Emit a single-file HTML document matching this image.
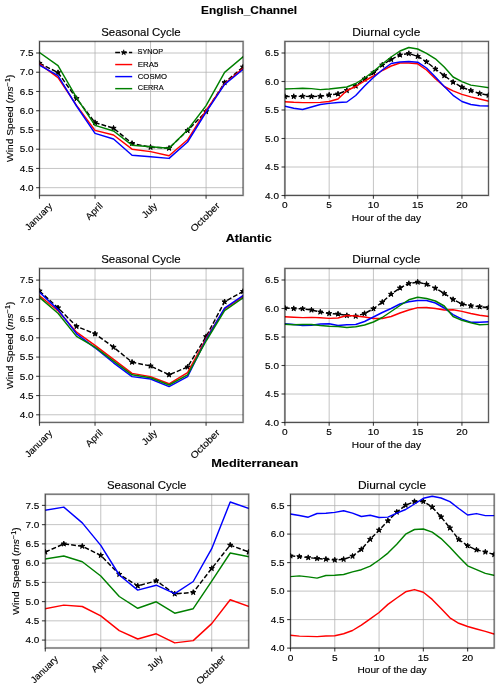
<!DOCTYPE html>
<html><head><meta charset="utf-8"><style>
html,body{margin:0;padding:0;background:#fff;}
svg{display:block;will-change:transform;}
text{font-family:"Liberation Sans", sans-serif;fill:#000;stroke:#000;stroke-width:0.14px;}
</style></head><body>
<svg width="500" height="689" viewBox="0 0 500 689">
<rect width="500" height="689" fill="#fff"/>
<line x1="39.5" y1="53.00" x2="243.1" y2="53.00" stroke="#b0b0b0" stroke-width="0.75"/>
<line x1="39.5" y1="72.24" x2="243.1" y2="72.24" stroke="#b0b0b0" stroke-width="0.75"/>
<line x1="39.5" y1="91.48" x2="243.1" y2="91.48" stroke="#b0b0b0" stroke-width="0.75"/>
<line x1="39.5" y1="110.72" x2="243.1" y2="110.72" stroke="#b0b0b0" stroke-width="0.75"/>
<line x1="39.5" y1="129.96" x2="243.1" y2="129.96" stroke="#b0b0b0" stroke-width="0.75"/>
<line x1="39.5" y1="149.20" x2="243.1" y2="149.20" stroke="#b0b0b0" stroke-width="0.75"/>
<line x1="39.5" y1="168.44" x2="243.1" y2="168.44" stroke="#b0b0b0" stroke-width="0.75"/>
<line x1="39.5" y1="187.68" x2="243.1" y2="187.68" stroke="#b0b0b0" stroke-width="0.75"/>
<line x1="39.50" y1="41.4" x2="39.50" y2="195.4" stroke="#b0b0b0" stroke-width="0.75"/>
<line x1="95.03" y1="41.4" x2="95.03" y2="195.4" stroke="#b0b0b0" stroke-width="0.75"/>
<line x1="150.55" y1="41.4" x2="150.55" y2="195.4" stroke="#b0b0b0" stroke-width="0.75"/>
<line x1="206.08" y1="41.4" x2="206.08" y2="195.4" stroke="#b0b0b0" stroke-width="0.75"/>
<clipPath id="cA1"><rect x="39.5" y="41.4" width="203.60" height="154.00"/></clipPath>
<g clip-path="url(#cA1)">
<polyline points="39.50,63.30 58.01,72.60 76.52,98.50 95.03,122.60 113.54,128.20 132.05,143.40 150.55,147.20 169.06,148.20 187.57,130.50 206.08,111.60 224.59,82.60 243.10,67.00" fill="none" stroke="#000" stroke-width="1.45" stroke-dasharray="4.8 2.1" stroke-linejoin="round"/>
<path d="M39.50,60.55L40.12,62.45L42.12,62.45L40.50,63.62L41.12,65.52L39.50,64.35L37.88,65.52L38.50,63.62L36.88,62.45L38.88,62.45ZM58.01,69.85L58.63,71.75L60.62,71.75L59.01,72.92L59.63,74.82L58.01,73.65L56.39,74.82L57.01,72.92L55.39,71.75L57.39,71.75ZM76.52,95.75L77.14,97.65L79.13,97.65L77.52,98.82L78.13,100.72L76.52,99.55L74.90,100.72L75.52,98.82L73.90,97.65L75.90,97.65ZM95.03,119.85L95.64,121.75L97.64,121.75L96.03,122.92L96.64,124.82L95.03,123.65L93.41,124.82L94.03,122.92L92.41,121.75L94.41,121.75ZM113.54,125.45L114.15,127.35L116.15,127.35L114.54,128.52L115.15,130.42L113.54,129.25L111.92,130.42L112.54,128.52L110.92,127.35L112.92,127.35ZM132.05,140.65L132.66,142.55L134.66,142.55L133.04,143.72L133.66,145.62L132.05,144.45L130.43,145.62L131.05,143.72L129.43,142.55L131.43,142.55ZM150.55,144.45L151.17,146.35L153.17,146.35L151.55,147.52L152.17,149.42L150.55,148.25L148.94,149.42L149.56,147.52L147.94,146.35L149.94,146.35ZM169.06,145.45L169.68,147.35L171.68,147.35L170.06,148.52L170.68,150.42L169.06,149.25L167.45,150.42L168.06,148.52L166.45,147.35L168.45,147.35ZM187.57,127.75L188.19,129.65L190.19,129.65L188.57,130.82L189.19,132.72L187.57,131.55L185.96,132.72L186.57,130.82L184.96,129.65L186.96,129.65ZM206.08,108.85L206.70,110.75L208.70,110.75L207.08,111.92L207.70,113.82L206.08,112.65L204.47,113.82L205.08,111.92L203.47,110.75L205.46,110.75ZM224.59,79.85L225.21,81.75L227.21,81.75L225.59,82.92L226.21,84.82L224.59,83.65L222.97,84.82L223.59,82.92L221.98,81.75L223.97,81.75ZM243.10,64.25L243.72,66.15L245.72,66.15L244.10,67.32L244.72,69.22L243.10,68.05L241.48,69.22L242.10,67.32L240.48,66.15L242.48,66.15Z" fill="#000" stroke="#000" stroke-width="1.0" stroke-linejoin="round"/>
<polyline points="39.50,63.90 58.01,77.70 76.52,105.40 95.03,130.40 113.54,135.00 132.05,149.20 150.55,151.60 169.06,155.80 187.57,139.80 206.08,110.40 224.59,83.80 243.10,68.20" fill="none" stroke="#ff0000" stroke-width="1.45" stroke-linejoin="round" stroke-linecap="square"/>
<polyline points="39.50,65.10 58.01,75.60 76.52,106.00 95.03,133.40 113.54,139.00 132.05,155.20 150.55,156.80 169.06,158.40 187.57,142.00 206.08,112.20 224.59,84.40 243.10,69.40" fill="none" stroke="#0000ff" stroke-width="1.45" stroke-linejoin="round" stroke-linecap="square"/>
<polyline points="39.50,52.50 58.01,65.70 76.52,97.60 95.03,125.40 113.54,131.00 132.05,145.20 150.55,146.80 169.06,148.20 187.57,130.00 206.08,105.60 224.59,72.40 243.10,56.80" fill="none" stroke="#008000" stroke-width="1.45" stroke-linejoin="round" stroke-linecap="square"/>
</g>
<rect x="39.5" y="41.4" width="203.60" height="154.00" fill="none" stroke="#000" stroke-opacity="0.2" stroke-width="2.2"/>
<rect x="39.5" y="41.4" width="203.60" height="154.00" fill="none" stroke="#000" stroke-opacity="0.55" stroke-width="1.0"/>
<line x1="36.1" y1="53.00" x2="39.5" y2="53.00" stroke="#000" stroke-opacity="0.75" stroke-width="1.1"/>
<text transform="translate(26.60,56.25) scale(1.060,1)" text-anchor="middle" font-size="9.4">7.5</text>
<line x1="36.1" y1="72.24" x2="39.5" y2="72.24" stroke="#000" stroke-opacity="0.75" stroke-width="1.1"/>
<text transform="translate(26.60,75.49) scale(1.060,1)" text-anchor="middle" font-size="9.4">7.0</text>
<line x1="36.1" y1="91.48" x2="39.5" y2="91.48" stroke="#000" stroke-opacity="0.75" stroke-width="1.1"/>
<text transform="translate(26.60,94.73) scale(1.060,1)" text-anchor="middle" font-size="9.4">6.5</text>
<line x1="36.1" y1="110.72" x2="39.5" y2="110.72" stroke="#000" stroke-opacity="0.75" stroke-width="1.1"/>
<text transform="translate(26.60,113.97) scale(1.060,1)" text-anchor="middle" font-size="9.4">6.0</text>
<line x1="36.1" y1="129.96" x2="39.5" y2="129.96" stroke="#000" stroke-opacity="0.75" stroke-width="1.1"/>
<text transform="translate(26.60,133.21) scale(1.060,1)" text-anchor="middle" font-size="9.4">5.5</text>
<line x1="36.1" y1="149.20" x2="39.5" y2="149.20" stroke="#000" stroke-opacity="0.75" stroke-width="1.1"/>
<text transform="translate(26.60,152.45) scale(1.060,1)" text-anchor="middle" font-size="9.4">5.0</text>
<line x1="36.1" y1="168.44" x2="39.5" y2="168.44" stroke="#000" stroke-opacity="0.75" stroke-width="1.1"/>
<text transform="translate(26.60,171.69) scale(1.060,1)" text-anchor="middle" font-size="9.4">4.5</text>
<line x1="36.1" y1="187.68" x2="39.5" y2="187.68" stroke="#000" stroke-opacity="0.75" stroke-width="1.1"/>
<text transform="translate(26.60,190.93) scale(1.060,1)" text-anchor="middle" font-size="9.4">4.0</text>
<line x1="39.50" y1="195.4" x2="39.50" y2="198.8" stroke="#000" stroke-opacity="0.75" stroke-width="1.1"/>
<text transform="translate(40.75,219.00) rotate(-45) scale(1.025,1)" text-anchor="middle" font-size="9.4">January</text>
<line x1="95.03" y1="195.4" x2="95.03" y2="198.8" stroke="#000" stroke-opacity="0.75" stroke-width="1.1"/>
<text transform="translate(96.25,213.50) rotate(-45) scale(1.050,1)" text-anchor="middle" font-size="9.4">April</text>
<line x1="150.55" y1="195.4" x2="150.55" y2="198.8" stroke="#000" stroke-opacity="0.75" stroke-width="1.1"/>
<text transform="translate(151.60,212.60) rotate(-45) scale(1.050,1)" text-anchor="middle" font-size="9.4">July</text>
<line x1="206.08" y1="195.4" x2="206.08" y2="198.8" stroke="#000" stroke-opacity="0.75" stroke-width="1.1"/>
<text transform="translate(207.30,219.40) rotate(-45) scale(1.105,1)" text-anchor="middle" font-size="9.4">October</text>
<text transform="translate(13.30,118.35) rotate(-90) scale(1.090,1)" text-anchor="middle" font-size="9.4">Wind Speed (<tspan font-style="italic">ms</tspan><tspan dy="-3.2" font-size="6.6">−1</tspan><tspan dy="3.2">)</tspan></text>
<line x1="284.9" y1="53.00" x2="488.5" y2="53.00" stroke="#b0b0b0" stroke-width="0.75"/>
<line x1="284.9" y1="81.50" x2="488.5" y2="81.50" stroke="#b0b0b0" stroke-width="0.75"/>
<line x1="284.9" y1="110.00" x2="488.5" y2="110.00" stroke="#b0b0b0" stroke-width="0.75"/>
<line x1="284.9" y1="138.50" x2="488.5" y2="138.50" stroke="#b0b0b0" stroke-width="0.75"/>
<line x1="284.9" y1="167.00" x2="488.5" y2="167.00" stroke="#b0b0b0" stroke-width="0.75"/>
<line x1="284.9" y1="195.50" x2="488.5" y2="195.50" stroke="#b0b0b0" stroke-width="0.75"/>
<line x1="284.90" y1="41.4" x2="284.90" y2="195.4" stroke="#b0b0b0" stroke-width="0.75"/>
<line x1="329.16" y1="41.4" x2="329.16" y2="195.4" stroke="#b0b0b0" stroke-width="0.75"/>
<line x1="373.42" y1="41.4" x2="373.42" y2="195.4" stroke="#b0b0b0" stroke-width="0.75"/>
<line x1="417.68" y1="41.4" x2="417.68" y2="195.4" stroke="#b0b0b0" stroke-width="0.75"/>
<line x1="461.94" y1="41.4" x2="461.94" y2="195.4" stroke="#b0b0b0" stroke-width="0.75"/>
<clipPath id="cA2"><rect x="284.9" y="41.4" width="203.60" height="154.00"/></clipPath>
<g clip-path="url(#cA2)">
<polyline points="284.90,96.50 293.75,96.50 302.60,96.30 311.46,96.50 320.31,96.30 329.16,95.00 338.01,94.00 346.87,90.50 355.72,86.00 364.57,79.00 373.42,72.80 382.27,65.00 391.13,59.50 399.98,55.00 408.83,53.50 417.68,56.40 426.53,61.80 435.39,69.00 444.24,75.60 453.09,82.20 461.94,87.20 470.80,90.60 479.65,93.50 488.50,95.20" fill="none" stroke="#000" stroke-width="1.45" stroke-dasharray="4.8 2.1" stroke-linejoin="round"/>
<path d="M284.90,93.75L285.52,95.65L287.52,95.65L285.90,96.82L286.52,98.72L284.90,97.55L283.28,98.72L283.90,96.82L282.28,95.65L284.28,95.65ZM293.75,93.75L294.37,95.65L296.37,95.65L294.75,96.82L295.37,98.72L293.75,97.55L292.14,98.72L292.75,96.82L291.14,95.65L293.13,95.65ZM302.60,93.55L303.22,95.45L305.22,95.45L303.60,96.62L304.22,98.52L302.60,97.35L300.99,98.52L301.61,96.62L299.99,95.45L301.99,95.45ZM311.46,93.75L312.07,95.65L314.07,95.65L312.46,96.82L313.07,98.72L311.46,97.55L309.84,98.72L310.46,96.82L308.84,95.65L310.84,95.65ZM320.31,93.55L320.93,95.45L322.92,95.45L321.31,96.62L321.93,98.52L320.31,97.35L318.69,98.52L319.31,96.62L317.69,95.45L319.69,95.45ZM329.16,92.25L329.78,94.15L331.78,94.15L330.16,95.32L330.78,97.22L329.16,96.05L327.54,97.22L328.16,95.32L326.55,94.15L328.54,94.15ZM338.01,91.25L338.63,93.15L340.63,93.15L339.01,94.32L339.63,96.22L338.01,95.05L336.40,96.22L337.01,94.32L335.40,93.15L337.40,93.15ZM346.87,87.75L347.48,89.65L349.48,89.65L347.86,90.82L348.48,92.72L346.87,91.55L345.25,92.72L345.87,90.82L344.25,89.65L346.25,89.65ZM355.72,83.25L356.33,85.15L358.33,85.15L356.72,86.32L357.33,88.22L355.72,87.05L354.10,88.22L354.72,86.32L353.10,85.15L355.10,85.15ZM364.57,76.25L365.19,78.15L367.18,78.15L365.57,79.32L366.19,81.22L364.57,80.05L362.95,81.22L363.57,79.32L361.95,78.15L363.95,78.15ZM373.42,70.05L374.04,71.95L376.04,71.95L374.42,73.12L375.04,75.02L373.42,73.85L371.81,75.02L372.42,73.12L370.81,71.95L372.80,71.95ZM382.27,62.25L382.89,64.15L384.89,64.15L383.27,65.32L383.89,67.22L382.27,66.05L380.66,67.22L381.27,65.32L379.66,64.15L381.66,64.15ZM391.13,56.75L391.74,58.65L393.74,58.65L392.13,59.82L392.74,61.72L391.13,60.55L389.51,61.72L390.13,59.82L388.51,58.65L390.51,58.65ZM399.98,52.25L400.60,54.15L402.59,54.15L400.98,55.32L401.59,57.22L399.98,56.05L398.36,57.22L398.98,55.32L397.36,54.15L399.36,54.15ZM408.83,50.75L409.45,52.65L411.45,52.65L409.83,53.82L410.45,55.72L408.83,54.55L407.21,55.72L407.83,53.82L406.22,52.65L408.21,52.65ZM417.68,53.65L418.30,55.55L420.30,55.55L418.68,56.72L419.30,58.62L417.68,57.45L416.07,58.62L416.68,56.72L415.07,55.55L417.07,55.55ZM426.53,59.05L427.15,60.95L429.15,60.95L427.53,62.12L428.15,64.02L426.53,62.85L424.92,64.02L425.54,62.12L423.92,60.95L425.92,60.95ZM435.39,66.25L436.00,68.15L438.00,68.15L436.39,69.32L437.00,71.22L435.39,70.05L433.77,71.22L434.39,69.32L432.77,68.15L434.77,68.15ZM444.24,72.85L444.86,74.75L446.85,74.75L445.24,75.92L445.86,77.82L444.24,76.65L442.62,77.82L443.24,75.92L441.62,74.75L443.62,74.75ZM453.09,79.45L453.71,81.35L455.71,81.35L454.09,82.52L454.71,84.42L453.09,83.25L451.47,84.42L452.09,82.52L450.48,81.35L452.47,81.35ZM461.94,84.45L462.56,86.35L464.56,86.35L462.94,87.52L463.56,89.42L461.94,88.25L460.33,89.42L460.94,87.52L459.33,86.35L461.33,86.35ZM470.80,87.85L471.41,89.75L473.41,89.75L471.79,90.92L472.41,92.82L470.80,91.65L469.18,92.82L469.80,90.92L468.18,89.75L470.18,89.75ZM479.65,90.75L480.27,92.65L482.26,92.65L480.65,93.82L481.26,95.72L479.65,94.55L478.03,95.72L478.65,93.82L477.03,92.65L479.03,92.65ZM488.50,92.45L489.12,94.35L491.12,94.35L489.50,95.52L490.12,97.42L488.50,96.25L486.88,97.42L487.50,95.52L485.88,94.35L487.88,94.35Z" fill="#000" stroke="#000" stroke-width="1.0" stroke-linejoin="round"/>
<polyline points="284.90,101.80 293.75,102.30 302.60,102.60 311.46,102.60 320.31,102.40 329.16,101.50 338.01,99.00 346.87,90.50 355.72,86.50 364.57,81.00 373.42,76.00 382.27,70.50 391.13,66.00 399.98,63.00 408.83,63.00 417.68,63.80 426.53,70.00 435.39,78.80 444.24,86.50 453.09,90.80 461.94,94.40 470.80,96.90 479.65,99.00 488.50,101.10" fill="none" stroke="#ff0000" stroke-width="1.45" stroke-linejoin="round" stroke-linecap="square"/>
<polyline points="284.90,106.20 293.75,108.20 302.60,109.50 311.46,107.00 320.31,104.50 329.16,103.40 338.01,102.50 346.87,102.00 355.72,95.50 364.57,86.00 373.42,77.50 382.27,70.00 391.13,63.50 399.98,62.00 408.83,61.50 417.68,62.20 426.53,68.00 435.39,77.00 444.24,86.60 453.09,95.30 461.94,101.50 470.80,104.50 479.65,105.70 488.50,106.00" fill="none" stroke="#0000ff" stroke-width="1.45" stroke-linejoin="round" stroke-linecap="square"/>
<polyline points="284.90,89.00 293.75,88.60 302.60,88.20 311.46,88.60 320.31,89.60 329.16,89.00 338.01,88.00 346.87,87.00 355.72,83.50 364.57,78.00 373.42,71.50 382.27,64.00 391.13,57.00 399.98,51.00 408.83,47.50 417.68,49.00 426.53,53.40 435.39,58.80 444.24,67.00 453.09,77.00 461.94,81.60 470.80,85.10 479.65,86.40 488.50,87.60" fill="none" stroke="#008000" stroke-width="1.45" stroke-linejoin="round" stroke-linecap="square"/>
</g>
<rect x="284.9" y="41.4" width="203.60" height="154.00" fill="none" stroke="#000" stroke-opacity="0.2" stroke-width="2.2"/>
<rect x="284.9" y="41.4" width="203.60" height="154.00" fill="none" stroke="#000" stroke-opacity="0.55" stroke-width="1.0"/>
<line x1="281.5" y1="53.00" x2="284.9" y2="53.00" stroke="#000" stroke-opacity="0.75" stroke-width="1.1"/>
<text transform="translate(272.00,56.25) scale(1.060,1)" text-anchor="middle" font-size="9.4">6.5</text>
<line x1="281.5" y1="81.50" x2="284.9" y2="81.50" stroke="#000" stroke-opacity="0.75" stroke-width="1.1"/>
<text transform="translate(272.00,84.75) scale(1.060,1)" text-anchor="middle" font-size="9.4">6.0</text>
<line x1="281.5" y1="110.00" x2="284.9" y2="110.00" stroke="#000" stroke-opacity="0.75" stroke-width="1.1"/>
<text transform="translate(272.00,113.25) scale(1.060,1)" text-anchor="middle" font-size="9.4">5.5</text>
<line x1="281.5" y1="138.50" x2="284.9" y2="138.50" stroke="#000" stroke-opacity="0.75" stroke-width="1.1"/>
<text transform="translate(272.00,141.75) scale(1.060,1)" text-anchor="middle" font-size="9.4">5.0</text>
<line x1="281.5" y1="167.00" x2="284.9" y2="167.00" stroke="#000" stroke-opacity="0.75" stroke-width="1.1"/>
<text transform="translate(272.00,170.25) scale(1.060,1)" text-anchor="middle" font-size="9.4">4.5</text>
<line x1="281.5" y1="195.50" x2="284.9" y2="195.50" stroke="#000" stroke-opacity="0.75" stroke-width="1.1"/>
<text transform="translate(272.00,198.75) scale(1.060,1)" text-anchor="middle" font-size="9.4">4.0</text>
<line x1="284.90" y1="195.4" x2="284.90" y2="198.8" stroke="#000" stroke-opacity="0.75" stroke-width="1.1"/>
<text transform="translate(284.90,208.20) scale(1.080,1)" text-anchor="middle" font-size="9.4">0</text>
<line x1="329.16" y1="195.4" x2="329.16" y2="198.8" stroke="#000" stroke-opacity="0.75" stroke-width="1.1"/>
<text transform="translate(329.16,208.20) scale(1.080,1)" text-anchor="middle" font-size="9.4">5</text>
<line x1="373.42" y1="195.4" x2="373.42" y2="198.8" stroke="#000" stroke-opacity="0.75" stroke-width="1.1"/>
<text transform="translate(373.42,208.20) scale(1.080,1)" text-anchor="middle" font-size="9.4">10</text>
<line x1="417.68" y1="195.4" x2="417.68" y2="198.8" stroke="#000" stroke-opacity="0.75" stroke-width="1.1"/>
<text transform="translate(417.68,208.20) scale(1.080,1)" text-anchor="middle" font-size="9.4">15</text>
<line x1="461.94" y1="195.4" x2="461.94" y2="198.8" stroke="#000" stroke-opacity="0.75" stroke-width="1.1"/>
<text transform="translate(461.94,208.20) scale(1.080,1)" text-anchor="middle" font-size="9.4">20</text>
<text transform="translate(386.40,220.80) scale(1.076,1)" text-anchor="middle" font-size="9.4">Hour of the day</text>
<line x1="39.5" y1="280.10" x2="243.1" y2="280.10" stroke="#b0b0b0" stroke-width="0.75"/>
<line x1="39.5" y1="299.34" x2="243.1" y2="299.34" stroke="#b0b0b0" stroke-width="0.75"/>
<line x1="39.5" y1="318.58" x2="243.1" y2="318.58" stroke="#b0b0b0" stroke-width="0.75"/>
<line x1="39.5" y1="337.82" x2="243.1" y2="337.82" stroke="#b0b0b0" stroke-width="0.75"/>
<line x1="39.5" y1="357.06" x2="243.1" y2="357.06" stroke="#b0b0b0" stroke-width="0.75"/>
<line x1="39.5" y1="376.30" x2="243.1" y2="376.30" stroke="#b0b0b0" stroke-width="0.75"/>
<line x1="39.5" y1="395.54" x2="243.1" y2="395.54" stroke="#b0b0b0" stroke-width="0.75"/>
<line x1="39.5" y1="414.78" x2="243.1" y2="414.78" stroke="#b0b0b0" stroke-width="0.75"/>
<line x1="39.50" y1="268.4" x2="39.50" y2="422.4" stroke="#b0b0b0" stroke-width="0.75"/>
<line x1="95.03" y1="268.4" x2="95.03" y2="422.4" stroke="#b0b0b0" stroke-width="0.75"/>
<line x1="150.55" y1="268.4" x2="150.55" y2="422.4" stroke="#b0b0b0" stroke-width="0.75"/>
<line x1="206.08" y1="268.4" x2="206.08" y2="422.4" stroke="#b0b0b0" stroke-width="0.75"/>
<clipPath id="cA3"><rect x="39.5" y="268.4" width="203.60" height="154.00"/></clipPath>
<g clip-path="url(#cA3)">
<polyline points="39.50,291.00 58.01,307.80 76.52,326.40 95.03,333.80 113.54,347.20 132.05,362.20 150.55,366.00 169.06,374.80 187.57,367.00 206.08,336.60 224.59,301.80 243.10,291.40" fill="none" stroke="#000" stroke-width="1.45" stroke-dasharray="4.8 2.1" stroke-linejoin="round"/>
<path d="M39.50,288.25L40.12,290.15L42.12,290.15L40.50,291.32L41.12,293.22L39.50,292.05L37.88,293.22L38.50,291.32L36.88,290.15L38.88,290.15ZM58.01,305.05L58.63,306.95L60.62,306.95L59.01,308.12L59.63,310.02L58.01,308.85L56.39,310.02L57.01,308.12L55.39,306.95L57.39,306.95ZM76.52,323.65L77.14,325.55L79.13,325.55L77.52,326.72L78.13,328.62L76.52,327.45L74.90,328.62L75.52,326.72L73.90,325.55L75.90,325.55ZM95.03,331.05L95.64,332.95L97.64,332.95L96.03,334.12L96.64,336.02L95.03,334.85L93.41,336.02L94.03,334.12L92.41,332.95L94.41,332.95ZM113.54,344.45L114.15,346.35L116.15,346.35L114.54,347.52L115.15,349.42L113.54,348.25L111.92,349.42L112.54,347.52L110.92,346.35L112.92,346.35ZM132.05,359.45L132.66,361.35L134.66,361.35L133.04,362.52L133.66,364.42L132.05,363.25L130.43,364.42L131.05,362.52L129.43,361.35L131.43,361.35ZM150.55,363.25L151.17,365.15L153.17,365.15L151.55,366.32L152.17,368.22L150.55,367.05L148.94,368.22L149.56,366.32L147.94,365.15L149.94,365.15ZM169.06,372.05L169.68,373.95L171.68,373.95L170.06,375.12L170.68,377.02L169.06,375.85L167.45,377.02L168.06,375.12L166.45,373.95L168.45,373.95ZM187.57,364.25L188.19,366.15L190.19,366.15L188.57,367.32L189.19,369.22L187.57,368.05L185.96,369.22L186.57,367.32L184.96,366.15L186.96,366.15ZM206.08,333.85L206.70,335.75L208.70,335.75L207.08,336.92L207.70,338.82L206.08,337.65L204.47,338.82L205.08,336.92L203.47,335.75L205.46,335.75ZM224.59,299.05L225.21,300.95L227.21,300.95L225.59,302.12L226.21,304.02L224.59,302.85L222.97,304.02L223.59,302.12L221.98,300.95L223.97,300.95ZM243.10,288.65L243.72,290.55L245.72,290.55L244.10,291.72L244.72,293.62L243.10,292.45L241.48,293.62L242.10,291.72L240.48,290.55L242.48,290.55Z" fill="#000" stroke="#000" stroke-width="1.0" stroke-linejoin="round"/>
<polyline points="39.50,295.80 58.01,310.80 76.52,332.20 95.03,345.40 113.54,359.40 132.05,373.40 150.55,376.60 169.06,383.80 187.57,372.70 206.08,338.50 224.59,309.00 243.10,296.60" fill="none" stroke="#ff0000" stroke-width="1.45" stroke-linejoin="round" stroke-linecap="square"/>
<polyline points="39.50,292.20 58.01,309.60 76.52,333.80 95.03,347.80 113.54,362.80 132.05,376.60 150.55,379.00 169.06,386.60 187.57,376.60 206.08,339.50 224.59,308.20 243.10,295.40" fill="none" stroke="#0000ff" stroke-width="1.45" stroke-linejoin="round" stroke-linecap="square"/>
<polyline points="39.50,297.40 58.01,313.20 76.52,336.40 95.03,347.20 113.54,361.20 132.05,374.80 150.55,377.80 169.06,385.00 187.57,374.80 206.08,341.00 224.59,310.60 243.10,297.80" fill="none" stroke="#008000" stroke-width="1.45" stroke-linejoin="round" stroke-linecap="square"/>
</g>
<rect x="39.5" y="268.4" width="203.60" height="154.00" fill="none" stroke="#000" stroke-opacity="0.2" stroke-width="2.2"/>
<rect x="39.5" y="268.4" width="203.60" height="154.00" fill="none" stroke="#000" stroke-opacity="0.55" stroke-width="1.0"/>
<line x1="36.1" y1="280.10" x2="39.5" y2="280.10" stroke="#000" stroke-opacity="0.75" stroke-width="1.1"/>
<text transform="translate(26.60,283.35) scale(1.060,1)" text-anchor="middle" font-size="9.4">7.5</text>
<line x1="36.1" y1="299.34" x2="39.5" y2="299.34" stroke="#000" stroke-opacity="0.75" stroke-width="1.1"/>
<text transform="translate(26.60,302.59) scale(1.060,1)" text-anchor="middle" font-size="9.4">7.0</text>
<line x1="36.1" y1="318.58" x2="39.5" y2="318.58" stroke="#000" stroke-opacity="0.75" stroke-width="1.1"/>
<text transform="translate(26.60,321.83) scale(1.060,1)" text-anchor="middle" font-size="9.4">6.5</text>
<line x1="36.1" y1="337.82" x2="39.5" y2="337.82" stroke="#000" stroke-opacity="0.75" stroke-width="1.1"/>
<text transform="translate(26.60,341.07) scale(1.060,1)" text-anchor="middle" font-size="9.4">6.0</text>
<line x1="36.1" y1="357.06" x2="39.5" y2="357.06" stroke="#000" stroke-opacity="0.75" stroke-width="1.1"/>
<text transform="translate(26.60,360.31) scale(1.060,1)" text-anchor="middle" font-size="9.4">5.5</text>
<line x1="36.1" y1="376.30" x2="39.5" y2="376.30" stroke="#000" stroke-opacity="0.75" stroke-width="1.1"/>
<text transform="translate(26.60,379.55) scale(1.060,1)" text-anchor="middle" font-size="9.4">5.0</text>
<line x1="36.1" y1="395.54" x2="39.5" y2="395.54" stroke="#000" stroke-opacity="0.75" stroke-width="1.1"/>
<text transform="translate(26.60,398.79) scale(1.060,1)" text-anchor="middle" font-size="9.4">4.5</text>
<line x1="36.1" y1="414.78" x2="39.5" y2="414.78" stroke="#000" stroke-opacity="0.75" stroke-width="1.1"/>
<text transform="translate(26.60,418.03) scale(1.060,1)" text-anchor="middle" font-size="9.4">4.0</text>
<line x1="39.50" y1="422.4" x2="39.50" y2="425.79999999999995" stroke="#000" stroke-opacity="0.75" stroke-width="1.1"/>
<text transform="translate(40.75,446.00) rotate(-45) scale(1.025,1)" text-anchor="middle" font-size="9.4">January</text>
<line x1="95.03" y1="422.4" x2="95.03" y2="425.79999999999995" stroke="#000" stroke-opacity="0.75" stroke-width="1.1"/>
<text transform="translate(96.25,440.50) rotate(-45) scale(1.050,1)" text-anchor="middle" font-size="9.4">April</text>
<line x1="150.55" y1="422.4" x2="150.55" y2="425.79999999999995" stroke="#000" stroke-opacity="0.75" stroke-width="1.1"/>
<text transform="translate(151.60,439.60) rotate(-45) scale(1.050,1)" text-anchor="middle" font-size="9.4">July</text>
<line x1="206.08" y1="422.4" x2="206.08" y2="425.79999999999995" stroke="#000" stroke-opacity="0.75" stroke-width="1.1"/>
<text transform="translate(207.30,446.40) rotate(-45) scale(1.105,1)" text-anchor="middle" font-size="9.4">October</text>
<text transform="translate(13.30,345.35) rotate(-90) scale(1.090,1)" text-anchor="middle" font-size="9.4">Wind Speed (<tspan font-style="italic">ms</tspan><tspan dy="-3.2" font-size="6.6">−1</tspan><tspan dy="3.2">)</tspan></text>
<line x1="284.9" y1="280.00" x2="488.5" y2="280.00" stroke="#b0b0b0" stroke-width="0.75"/>
<line x1="284.9" y1="308.50" x2="488.5" y2="308.50" stroke="#b0b0b0" stroke-width="0.75"/>
<line x1="284.9" y1="337.00" x2="488.5" y2="337.00" stroke="#b0b0b0" stroke-width="0.75"/>
<line x1="284.9" y1="365.50" x2="488.5" y2="365.50" stroke="#b0b0b0" stroke-width="0.75"/>
<line x1="284.9" y1="394.00" x2="488.5" y2="394.00" stroke="#b0b0b0" stroke-width="0.75"/>
<line x1="284.9" y1="422.50" x2="488.5" y2="422.50" stroke="#b0b0b0" stroke-width="0.75"/>
<line x1="284.90" y1="268.4" x2="284.90" y2="422.4" stroke="#b0b0b0" stroke-width="0.75"/>
<line x1="329.16" y1="268.4" x2="329.16" y2="422.4" stroke="#b0b0b0" stroke-width="0.75"/>
<line x1="373.42" y1="268.4" x2="373.42" y2="422.4" stroke="#b0b0b0" stroke-width="0.75"/>
<line x1="417.68" y1="268.4" x2="417.68" y2="422.4" stroke="#b0b0b0" stroke-width="0.75"/>
<line x1="461.94" y1="268.4" x2="461.94" y2="422.4" stroke="#b0b0b0" stroke-width="0.75"/>
<clipPath id="cA4"><rect x="284.9" y="268.4" width="203.60" height="154.00"/></clipPath>
<g clip-path="url(#cA4)">
<polyline points="284.90,308.00 293.75,308.60 302.60,308.80 311.46,310.00 320.31,312.00 329.16,313.50 338.01,314.00 346.87,315.50 355.72,316.20 364.57,313.50 373.42,308.80 382.27,302.20 391.13,294.20 399.98,288.00 408.83,283.50 417.68,282.10 426.53,284.30 435.39,288.20 444.24,293.50 453.09,299.50 461.94,304.00 470.80,305.80 479.65,306.80 488.50,307.60" fill="none" stroke="#000" stroke-width="1.45" stroke-dasharray="4.8 2.1" stroke-linejoin="round"/>
<path d="M284.90,305.25L285.52,307.15L287.52,307.15L285.90,308.32L286.52,310.22L284.90,309.05L283.28,310.22L283.90,308.32L282.28,307.15L284.28,307.15ZM293.75,305.85L294.37,307.75L296.37,307.75L294.75,308.92L295.37,310.82L293.75,309.65L292.14,310.82L292.75,308.92L291.14,307.75L293.13,307.75ZM302.60,306.05L303.22,307.95L305.22,307.95L303.60,309.12L304.22,311.02L302.60,309.85L300.99,311.02L301.61,309.12L299.99,307.95L301.99,307.95ZM311.46,307.25L312.07,309.15L314.07,309.15L312.46,310.32L313.07,312.22L311.46,311.05L309.84,312.22L310.46,310.32L308.84,309.15L310.84,309.15ZM320.31,309.25L320.93,311.15L322.92,311.15L321.31,312.32L321.93,314.22L320.31,313.05L318.69,314.22L319.31,312.32L317.69,311.15L319.69,311.15ZM329.16,310.75L329.78,312.65L331.78,312.65L330.16,313.82L330.78,315.72L329.16,314.55L327.54,315.72L328.16,313.82L326.55,312.65L328.54,312.65ZM338.01,311.25L338.63,313.15L340.63,313.15L339.01,314.32L339.63,316.22L338.01,315.05L336.40,316.22L337.01,314.32L335.40,313.15L337.40,313.15ZM346.87,312.75L347.48,314.65L349.48,314.65L347.86,315.82L348.48,317.72L346.87,316.55L345.25,317.72L345.87,315.82L344.25,314.65L346.25,314.65ZM355.72,313.45L356.33,315.35L358.33,315.35L356.72,316.52L357.33,318.42L355.72,317.25L354.10,318.42L354.72,316.52L353.10,315.35L355.10,315.35ZM364.57,310.75L365.19,312.65L367.18,312.65L365.57,313.82L366.19,315.72L364.57,314.55L362.95,315.72L363.57,313.82L361.95,312.65L363.95,312.65ZM373.42,306.05L374.04,307.95L376.04,307.95L374.42,309.12L375.04,311.02L373.42,309.85L371.81,311.02L372.42,309.12L370.81,307.95L372.80,307.95ZM382.27,299.45L382.89,301.35L384.89,301.35L383.27,302.52L383.89,304.42L382.27,303.25L380.66,304.42L381.27,302.52L379.66,301.35L381.66,301.35ZM391.13,291.45L391.74,293.35L393.74,293.35L392.13,294.52L392.74,296.42L391.13,295.25L389.51,296.42L390.13,294.52L388.51,293.35L390.51,293.35ZM399.98,285.25L400.60,287.15L402.59,287.15L400.98,288.32L401.59,290.22L399.98,289.05L398.36,290.22L398.98,288.32L397.36,287.15L399.36,287.15ZM408.83,280.75L409.45,282.65L411.45,282.65L409.83,283.82L410.45,285.72L408.83,284.55L407.21,285.72L407.83,283.82L406.22,282.65L408.21,282.65ZM417.68,279.35L418.30,281.25L420.30,281.25L418.68,282.42L419.30,284.32L417.68,283.15L416.07,284.32L416.68,282.42L415.07,281.25L417.07,281.25ZM426.53,281.55L427.15,283.45L429.15,283.45L427.53,284.62L428.15,286.52L426.53,285.35L424.92,286.52L425.54,284.62L423.92,283.45L425.92,283.45ZM435.39,285.45L436.00,287.35L438.00,287.35L436.39,288.52L437.00,290.42L435.39,289.25L433.77,290.42L434.39,288.52L432.77,287.35L434.77,287.35ZM444.24,290.75L444.86,292.65L446.85,292.65L445.24,293.82L445.86,295.72L444.24,294.55L442.62,295.72L443.24,293.82L441.62,292.65L443.62,292.65ZM453.09,296.75L453.71,298.65L455.71,298.65L454.09,299.82L454.71,301.72L453.09,300.55L451.47,301.72L452.09,299.82L450.48,298.65L452.47,298.65ZM461.94,301.25L462.56,303.15L464.56,303.15L462.94,304.32L463.56,306.22L461.94,305.05L460.33,306.22L460.94,304.32L459.33,303.15L461.33,303.15ZM470.80,303.05L471.41,304.95L473.41,304.95L471.79,306.12L472.41,308.02L470.80,306.85L469.18,308.02L469.80,306.12L468.18,304.95L470.18,304.95ZM479.65,304.05L480.27,305.95L482.26,305.95L480.65,307.12L481.26,309.02L479.65,307.85L478.03,309.02L478.65,307.12L477.03,305.95L479.03,305.95ZM488.50,304.85L489.12,306.75L491.12,306.75L489.50,307.92L490.12,309.82L488.50,308.65L486.88,309.82L487.50,307.92L485.88,306.75L487.88,306.75Z" fill="#000" stroke="#000" stroke-width="1.0" stroke-linejoin="round"/>
<polyline points="284.90,316.80 293.75,317.20 302.60,317.60 311.46,317.40 320.31,317.80 329.16,318.40 338.01,318.00 346.87,315.50 355.72,316.00 364.57,317.00 373.42,318.50 382.27,318.50 391.13,316.50 399.98,313.00 408.83,310.00 417.68,307.60 426.53,307.50 435.39,308.50 444.24,310.00 453.09,309.80 461.94,311.40 470.80,313.50 479.65,315.20 488.50,316.40" fill="none" stroke="#ff0000" stroke-width="1.45" stroke-linejoin="round" stroke-linecap="square"/>
<polyline points="284.90,323.80 293.75,324.50 302.60,325.50 311.46,325.20 320.31,324.00 329.16,323.80 338.01,325.50 346.87,324.80 355.72,324.50 364.57,321.50 373.42,317.00 382.27,312.50 391.13,308.50 399.98,304.00 408.83,301.80 417.68,300.50 426.53,300.50 435.39,303.00 444.24,308.00 453.09,314.60 461.94,319.20 470.80,322.30 479.65,322.30 488.50,321.70" fill="none" stroke="#0000ff" stroke-width="1.45" stroke-linejoin="round" stroke-linecap="square"/>
<polyline points="284.90,324.20 293.75,324.70 302.60,324.50 311.46,324.50 320.31,325.50 329.16,326.30 338.01,326.50 346.87,327.50 355.72,326.80 364.57,325.00 373.42,322.00 382.27,317.50 391.13,311.50 399.98,305.50 408.83,299.80 417.68,297.30 426.53,298.50 435.39,301.00 444.24,306.00 453.09,316.50 461.94,320.30 470.80,322.70 479.65,324.80 488.50,324.40" fill="none" stroke="#008000" stroke-width="1.45" stroke-linejoin="round" stroke-linecap="square"/>
</g>
<rect x="284.9" y="268.4" width="203.60" height="154.00" fill="none" stroke="#000" stroke-opacity="0.2" stroke-width="2.2"/>
<rect x="284.9" y="268.4" width="203.60" height="154.00" fill="none" stroke="#000" stroke-opacity="0.55" stroke-width="1.0"/>
<line x1="281.5" y1="280.00" x2="284.9" y2="280.00" stroke="#000" stroke-opacity="0.75" stroke-width="1.1"/>
<text transform="translate(272.00,283.25) scale(1.060,1)" text-anchor="middle" font-size="9.4">6.5</text>
<line x1="281.5" y1="308.50" x2="284.9" y2="308.50" stroke="#000" stroke-opacity="0.75" stroke-width="1.1"/>
<text transform="translate(272.00,311.75) scale(1.060,1)" text-anchor="middle" font-size="9.4">6.0</text>
<line x1="281.5" y1="337.00" x2="284.9" y2="337.00" stroke="#000" stroke-opacity="0.75" stroke-width="1.1"/>
<text transform="translate(272.00,340.25) scale(1.060,1)" text-anchor="middle" font-size="9.4">5.5</text>
<line x1="281.5" y1="365.50" x2="284.9" y2="365.50" stroke="#000" stroke-opacity="0.75" stroke-width="1.1"/>
<text transform="translate(272.00,368.75) scale(1.060,1)" text-anchor="middle" font-size="9.4">5.0</text>
<line x1="281.5" y1="394.00" x2="284.9" y2="394.00" stroke="#000" stroke-opacity="0.75" stroke-width="1.1"/>
<text transform="translate(272.00,397.25) scale(1.060,1)" text-anchor="middle" font-size="9.4">4.5</text>
<line x1="281.5" y1="422.50" x2="284.9" y2="422.50" stroke="#000" stroke-opacity="0.75" stroke-width="1.1"/>
<text transform="translate(272.00,425.75) scale(1.060,1)" text-anchor="middle" font-size="9.4">4.0</text>
<line x1="284.90" y1="422.4" x2="284.90" y2="425.79999999999995" stroke="#000" stroke-opacity="0.75" stroke-width="1.1"/>
<text transform="translate(284.90,435.20) scale(1.080,1)" text-anchor="middle" font-size="9.4">0</text>
<line x1="329.16" y1="422.4" x2="329.16" y2="425.79999999999995" stroke="#000" stroke-opacity="0.75" stroke-width="1.1"/>
<text transform="translate(329.16,435.20) scale(1.080,1)" text-anchor="middle" font-size="9.4">5</text>
<line x1="373.42" y1="422.4" x2="373.42" y2="425.79999999999995" stroke="#000" stroke-opacity="0.75" stroke-width="1.1"/>
<text transform="translate(373.42,435.20) scale(1.080,1)" text-anchor="middle" font-size="9.4">10</text>
<line x1="417.68" y1="422.4" x2="417.68" y2="425.79999999999995" stroke="#000" stroke-opacity="0.75" stroke-width="1.1"/>
<text transform="translate(417.68,435.20) scale(1.080,1)" text-anchor="middle" font-size="9.4">15</text>
<line x1="461.94" y1="422.4" x2="461.94" y2="425.79999999999995" stroke="#000" stroke-opacity="0.75" stroke-width="1.1"/>
<text transform="translate(461.94,435.20) scale(1.080,1)" text-anchor="middle" font-size="9.4">20</text>
<text transform="translate(386.40,447.80) scale(1.076,1)" text-anchor="middle" font-size="9.4">Hour of the day</text>
<line x1="45.3" y1="505.40" x2="248.7" y2="505.40" stroke="#b0b0b0" stroke-width="0.75"/>
<line x1="45.3" y1="524.64" x2="248.7" y2="524.64" stroke="#b0b0b0" stroke-width="0.75"/>
<line x1="45.3" y1="543.88" x2="248.7" y2="543.88" stroke="#b0b0b0" stroke-width="0.75"/>
<line x1="45.3" y1="563.12" x2="248.7" y2="563.12" stroke="#b0b0b0" stroke-width="0.75"/>
<line x1="45.3" y1="582.36" x2="248.7" y2="582.36" stroke="#b0b0b0" stroke-width="0.75"/>
<line x1="45.3" y1="601.60" x2="248.7" y2="601.60" stroke="#b0b0b0" stroke-width="0.75"/>
<line x1="45.3" y1="620.84" x2="248.7" y2="620.84" stroke="#b0b0b0" stroke-width="0.75"/>
<line x1="45.3" y1="640.08" x2="248.7" y2="640.08" stroke="#b0b0b0" stroke-width="0.75"/>
<line x1="45.30" y1="494.2" x2="45.30" y2="648.0" stroke="#b0b0b0" stroke-width="0.75"/>
<line x1="100.77" y1="494.2" x2="100.77" y2="648.0" stroke="#b0b0b0" stroke-width="0.75"/>
<line x1="156.25" y1="494.2" x2="156.25" y2="648.0" stroke="#b0b0b0" stroke-width="0.75"/>
<line x1="211.72" y1="494.2" x2="211.72" y2="648.0" stroke="#b0b0b0" stroke-width="0.75"/>
<clipPath id="cA5"><rect x="45.3" y="494.2" width="203.40" height="153.80"/></clipPath>
<g clip-path="url(#cA5)">
<polyline points="45.30,552.00 63.79,543.90 82.28,546.20 100.77,555.40 119.26,574.30 137.75,585.90 156.25,580.80 174.74,593.90 193.23,592.40 211.72,568.40 230.21,545.10 248.70,552.00" fill="none" stroke="#000" stroke-width="1.45" stroke-dasharray="4.8 2.1" stroke-linejoin="round"/>
<path d="M45.30,549.25L45.92,551.15L47.92,551.15L46.30,552.32L46.92,554.22L45.30,553.05L43.68,554.22L44.30,552.32L42.68,551.15L44.68,551.15ZM63.79,541.15L64.41,543.05L66.41,543.05L64.79,544.22L65.41,546.12L63.79,544.95L62.17,546.12L62.79,544.22L61.18,543.05L63.17,543.05ZM82.28,543.45L82.90,545.35L84.90,545.35L83.28,546.52L83.90,548.42L82.28,547.25L80.67,548.42L81.28,546.52L79.67,545.35L81.66,545.35ZM100.77,552.65L101.39,554.55L103.39,554.55L101.77,555.72L102.39,557.62L100.77,556.45L99.16,557.62L99.77,555.72L98.16,554.55L100.16,554.55ZM119.26,571.55L119.88,573.45L121.88,573.45L120.26,574.62L120.88,576.52L119.26,575.35L117.65,576.52L118.26,574.62L116.65,573.45L118.65,573.45ZM137.75,583.15L138.37,585.05L140.37,585.05L138.75,586.22L139.37,588.12L137.75,586.95L136.14,588.12L136.76,586.22L135.14,585.05L137.14,585.05ZM156.25,578.05L156.86,579.95L158.86,579.95L157.24,581.12L157.86,583.02L156.25,581.85L154.63,583.02L155.25,581.12L153.63,579.95L155.63,579.95ZM174.74,591.15L175.35,593.05L177.35,593.05L175.74,594.22L176.35,596.12L174.74,594.95L173.12,596.12L173.74,594.22L172.12,593.05L174.12,593.05ZM193.23,589.65L193.84,591.55L195.84,591.55L194.23,592.72L194.84,594.62L193.23,593.45L191.61,594.62L192.23,592.72L190.61,591.55L192.61,591.55ZM211.72,565.65L212.34,567.55L214.33,567.55L212.72,568.72L213.33,570.62L211.72,569.45L210.10,570.62L210.72,568.72L209.10,567.55L211.10,567.55ZM230.21,542.35L230.83,544.25L232.82,544.25L231.21,545.42L231.83,547.32L230.21,546.15L228.59,547.32L229.21,545.42L227.59,544.25L229.59,544.25ZM248.70,549.25L249.32,551.15L251.32,551.15L249.70,552.32L250.32,554.22L248.70,553.05L247.08,554.22L247.70,552.32L246.08,551.15L248.08,551.15Z" fill="#000" stroke="#000" stroke-width="1.0" stroke-linejoin="round"/>
<polyline points="45.30,608.60 63.79,605.10 82.28,606.50 100.77,615.90 119.26,630.60 137.75,639.00 156.25,633.80 174.74,642.90 193.23,640.60 211.72,623.60 230.21,599.80 248.70,606.40" fill="none" stroke="#ff0000" stroke-width="1.45" stroke-linejoin="round" stroke-linecap="square"/>
<polyline points="45.30,510.30 63.79,507.10 82.28,522.90 100.77,545.40 119.26,575.00 137.75,590.10 156.25,585.20 174.74,593.60 193.23,581.50 211.72,548.70 230.21,502.00 248.70,508.50" fill="none" stroke="#0000ff" stroke-width="1.45" stroke-linejoin="round" stroke-linecap="square"/>
<polyline points="45.30,558.90 63.79,556.00 82.28,561.70 100.77,576.00 119.26,596.50 137.75,608.30 156.25,601.80 174.74,613.20 193.23,608.70 211.72,581.10 230.21,553.00 248.70,556.60" fill="none" stroke="#008000" stroke-width="1.45" stroke-linejoin="round" stroke-linecap="square"/>
</g>
<rect x="45.3" y="494.2" width="203.40" height="153.80" fill="none" stroke="#000" stroke-opacity="0.2" stroke-width="2.2"/>
<rect x="45.3" y="494.2" width="203.40" height="153.80" fill="none" stroke="#000" stroke-opacity="0.55" stroke-width="1.0"/>
<line x1="41.9" y1="505.40" x2="45.3" y2="505.40" stroke="#000" stroke-opacity="0.75" stroke-width="1.1"/>
<text transform="translate(32.40,508.65) scale(1.060,1)" text-anchor="middle" font-size="9.4">7.5</text>
<line x1="41.9" y1="524.64" x2="45.3" y2="524.64" stroke="#000" stroke-opacity="0.75" stroke-width="1.1"/>
<text transform="translate(32.40,527.89) scale(1.060,1)" text-anchor="middle" font-size="9.4">7.0</text>
<line x1="41.9" y1="543.88" x2="45.3" y2="543.88" stroke="#000" stroke-opacity="0.75" stroke-width="1.1"/>
<text transform="translate(32.40,547.13) scale(1.060,1)" text-anchor="middle" font-size="9.4">6.5</text>
<line x1="41.9" y1="563.12" x2="45.3" y2="563.12" stroke="#000" stroke-opacity="0.75" stroke-width="1.1"/>
<text transform="translate(32.40,566.37) scale(1.060,1)" text-anchor="middle" font-size="9.4">6.0</text>
<line x1="41.9" y1="582.36" x2="45.3" y2="582.36" stroke="#000" stroke-opacity="0.75" stroke-width="1.1"/>
<text transform="translate(32.40,585.61) scale(1.060,1)" text-anchor="middle" font-size="9.4">5.5</text>
<line x1="41.9" y1="601.60" x2="45.3" y2="601.60" stroke="#000" stroke-opacity="0.75" stroke-width="1.1"/>
<text transform="translate(32.40,604.85) scale(1.060,1)" text-anchor="middle" font-size="9.4">5.0</text>
<line x1="41.9" y1="620.84" x2="45.3" y2="620.84" stroke="#000" stroke-opacity="0.75" stroke-width="1.1"/>
<text transform="translate(32.40,624.09) scale(1.060,1)" text-anchor="middle" font-size="9.4">4.5</text>
<line x1="41.9" y1="640.08" x2="45.3" y2="640.08" stroke="#000" stroke-opacity="0.75" stroke-width="1.1"/>
<text transform="translate(32.40,643.33) scale(1.060,1)" text-anchor="middle" font-size="9.4">4.0</text>
<line x1="45.30" y1="648.0" x2="45.30" y2="651.4" stroke="#000" stroke-opacity="0.75" stroke-width="1.1"/>
<text transform="translate(46.55,671.60) rotate(-45) scale(1.025,1)" text-anchor="middle" font-size="9.4">January</text>
<line x1="100.77" y1="648.0" x2="100.77" y2="651.4" stroke="#000" stroke-opacity="0.75" stroke-width="1.1"/>
<text transform="translate(102.00,666.10) rotate(-45) scale(1.050,1)" text-anchor="middle" font-size="9.4">April</text>
<line x1="156.25" y1="648.0" x2="156.25" y2="651.4" stroke="#000" stroke-opacity="0.75" stroke-width="1.1"/>
<text transform="translate(157.29,665.20) rotate(-45) scale(1.050,1)" text-anchor="middle" font-size="9.4">July</text>
<line x1="211.72" y1="648.0" x2="211.72" y2="651.4" stroke="#000" stroke-opacity="0.75" stroke-width="1.1"/>
<text transform="translate(212.94,672.00) rotate(-45) scale(1.105,1)" text-anchor="middle" font-size="9.4">October</text>
<text transform="translate(19.10,571.05) rotate(-90) scale(1.090,1)" text-anchor="middle" font-size="9.4">Wind Speed (<tspan font-style="italic">ms</tspan><tspan dy="-3.2" font-size="6.6">−1</tspan><tspan dy="3.2">)</tspan></text>
<line x1="290.5" y1="505.60" x2="494.2" y2="505.60" stroke="#b0b0b0" stroke-width="0.75"/>
<line x1="290.5" y1="534.10" x2="494.2" y2="534.10" stroke="#b0b0b0" stroke-width="0.75"/>
<line x1="290.5" y1="562.60" x2="494.2" y2="562.60" stroke="#b0b0b0" stroke-width="0.75"/>
<line x1="290.5" y1="591.10" x2="494.2" y2="591.10" stroke="#b0b0b0" stroke-width="0.75"/>
<line x1="290.5" y1="619.60" x2="494.2" y2="619.60" stroke="#b0b0b0" stroke-width="0.75"/>
<line x1="290.5" y1="648.10" x2="494.2" y2="648.10" stroke="#b0b0b0" stroke-width="0.75"/>
<line x1="290.50" y1="494.2" x2="290.50" y2="648.0" stroke="#b0b0b0" stroke-width="0.75"/>
<line x1="334.78" y1="494.2" x2="334.78" y2="648.0" stroke="#b0b0b0" stroke-width="0.75"/>
<line x1="379.07" y1="494.2" x2="379.07" y2="648.0" stroke="#b0b0b0" stroke-width="0.75"/>
<line x1="423.35" y1="494.2" x2="423.35" y2="648.0" stroke="#b0b0b0" stroke-width="0.75"/>
<line x1="467.63" y1="494.2" x2="467.63" y2="648.0" stroke="#b0b0b0" stroke-width="0.75"/>
<clipPath id="cA6"><rect x="290.5" y="494.2" width="203.70" height="153.80"/></clipPath>
<g clip-path="url(#cA6)">
<polyline points="290.50,555.90 299.36,556.60 308.21,557.60 317.07,558.50 325.93,559.20 334.78,560.00 343.64,559.30 352.50,556.20 361.35,549.40 370.21,539.30 379.07,530.10 387.92,520.80 396.78,512.10 405.63,505.20 414.49,501.50 423.35,501.40 432.20,507.10 441.06,516.90 449.92,528.00 458.77,539.50 467.63,545.80 476.49,549.90 485.34,552.00 494.20,554.50" fill="none" stroke="#000" stroke-width="1.45" stroke-dasharray="4.8 2.1" stroke-linejoin="round"/>
<path d="M290.50,553.15L291.12,555.05L293.12,555.05L291.50,556.22L292.12,558.12L290.50,556.95L288.88,558.12L289.50,556.22L287.88,555.05L289.88,555.05ZM299.36,553.85L299.97,555.75L301.97,555.75L300.36,556.92L300.97,558.82L299.36,557.65L297.74,558.82L298.36,556.92L296.74,555.75L298.74,555.75ZM308.21,554.85L308.83,556.75L310.83,556.75L309.21,557.92L309.83,559.82L308.21,558.65L306.60,559.82L307.21,557.92L305.60,556.75L307.60,556.75ZM317.07,555.75L317.69,557.65L319.68,557.65L318.07,558.82L318.69,560.72L317.07,559.55L315.45,560.72L316.07,558.82L314.45,557.65L316.45,557.65ZM325.93,556.45L326.54,558.35L328.54,558.35L326.93,559.52L327.54,561.42L325.93,560.25L324.31,561.42L324.93,559.52L323.31,558.35L325.31,558.35ZM334.78,557.25L335.40,559.15L337.40,559.15L335.78,560.32L336.40,562.22L334.78,561.05L333.17,562.22L333.78,560.32L332.17,559.15L334.17,559.15ZM343.64,556.55L344.26,558.45L346.25,558.45L344.64,559.62L345.26,561.52L343.64,560.35L342.02,561.52L342.64,559.62L341.02,558.45L343.02,558.45ZM352.50,553.45L353.11,555.35L355.11,555.35L353.49,556.52L354.11,558.42L352.50,557.25L350.88,558.42L351.50,556.52L349.88,555.35L351.88,555.35ZM361.35,546.65L361.97,548.55L363.97,548.55L362.35,549.72L362.97,551.62L361.35,550.45L359.74,551.62L360.35,549.72L358.74,548.55L360.73,548.55ZM370.21,536.55L370.83,538.45L372.82,538.45L371.21,539.62L371.83,541.52L370.21,540.35L368.59,541.52L369.21,539.62L367.59,538.45L369.59,538.45ZM379.07,527.35L379.68,529.25L381.68,529.25L380.06,530.42L380.68,532.32L379.07,531.15L377.45,532.32L378.07,530.42L376.45,529.25L378.45,529.25ZM387.92,518.05L388.54,519.95L390.54,519.95L388.92,521.12L389.54,523.02L387.92,521.85L386.31,523.02L386.92,521.12L385.31,519.95L387.30,519.95ZM396.78,509.35L397.40,511.25L399.39,511.25L397.78,512.42L398.39,514.32L396.78,513.15L395.16,514.32L395.78,512.42L394.16,511.25L396.16,511.25ZM405.63,502.45L406.25,504.35L408.25,504.35L406.63,505.52L407.25,507.42L405.63,506.25L404.02,507.42L404.64,505.52L403.02,504.35L405.02,504.35ZM414.49,498.75L415.11,500.65L417.11,500.65L415.49,501.82L416.11,503.72L414.49,502.55L412.87,503.72L413.49,501.82L411.88,500.65L413.87,500.65ZM423.35,498.65L423.97,500.55L425.96,500.55L424.35,501.72L424.96,503.62L423.35,502.45L421.73,503.62L422.35,501.72L420.73,500.55L422.73,500.55ZM432.20,504.35L432.82,506.25L434.82,506.25L433.20,507.42L433.82,509.32L432.20,508.15L430.59,509.32L431.21,507.42L429.59,506.25L431.59,506.25ZM441.06,514.15L441.68,516.05L443.68,516.05L442.06,517.22L442.68,519.12L441.06,517.95L439.44,519.12L440.06,517.22L438.45,516.05L440.44,516.05ZM449.92,525.25L450.53,527.15L452.53,527.15L450.92,528.32L451.53,530.22L449.92,529.05L448.30,530.22L448.92,528.32L447.30,527.15L449.30,527.15ZM458.77,536.75L459.39,538.65L461.39,538.65L459.77,539.82L460.39,541.72L458.77,540.55L457.16,541.72L457.77,539.82L456.16,538.65L458.16,538.65ZM467.63,543.05L468.25,544.95L470.25,544.95L468.63,546.12L469.25,548.02L467.63,546.85L466.01,548.02L466.63,546.12L465.02,544.95L467.01,544.95ZM476.49,547.15L477.10,549.05L479.10,549.05L477.49,550.22L478.10,552.12L476.49,550.95L474.87,552.12L475.49,550.22L473.87,549.05L475.87,549.05ZM485.34,549.25L485.96,551.15L487.96,551.15L486.34,552.32L486.96,554.22L485.34,553.05L483.73,554.22L484.34,552.32L482.73,551.15L484.73,551.15ZM494.20,551.75L494.82,553.65L496.82,553.65L495.20,554.82L495.82,556.72L494.20,555.55L492.58,556.72L493.20,554.82L491.58,553.65L493.58,553.65Z" fill="#000" stroke="#000" stroke-width="1.0" stroke-linejoin="round"/>
<polyline points="290.50,635.30 299.36,636.10 308.21,636.40 317.07,636.60 325.93,636.00 334.78,635.80 343.64,633.70 352.50,630.50 361.35,625.10 370.21,618.80 379.07,612.50 387.92,604.40 396.78,598.00 405.63,591.80 414.49,589.60 423.35,592.20 432.20,599.40 441.06,608.60 449.92,617.80 458.77,623.30 467.63,626.50 476.49,629.00 485.34,631.40 494.20,634.10" fill="none" stroke="#ff0000" stroke-width="1.45" stroke-linejoin="round" stroke-linecap="square"/>
<polyline points="290.50,514.00 299.36,515.50 308.21,517.20 317.07,513.50 325.93,513.20 334.78,512.40 343.64,510.70 352.50,513.10 361.35,516.50 370.21,515.30 379.07,517.50 387.92,517.10 396.78,513.10 405.63,509.50 414.49,504.00 423.35,498.30 432.20,496.20 441.06,498.00 449.92,501.60 458.77,508.50 467.63,515.00 476.49,513.60 485.34,515.60 494.20,515.60" fill="none" stroke="#0000ff" stroke-width="1.45" stroke-linejoin="round" stroke-linecap="square"/>
<polyline points="290.50,576.60 299.36,575.90 308.21,576.90 317.07,578.10 325.93,575.50 334.78,575.20 343.64,574.50 352.50,571.90 361.35,569.70 370.21,566.10 379.07,560.00 387.92,553.10 396.78,544.30 405.63,534.20 414.49,529.50 423.35,529.00 432.20,532.10 441.06,538.60 449.92,547.30 458.77,556.70 467.63,565.80 476.49,569.70 485.34,573.40 494.20,575.30" fill="none" stroke="#008000" stroke-width="1.45" stroke-linejoin="round" stroke-linecap="square"/>
</g>
<rect x="290.5" y="494.2" width="203.70" height="153.80" fill="none" stroke="#000" stroke-opacity="0.2" stroke-width="2.2"/>
<rect x="290.5" y="494.2" width="203.70" height="153.80" fill="none" stroke="#000" stroke-opacity="0.55" stroke-width="1.0"/>
<line x1="287.1" y1="505.60" x2="290.5" y2="505.60" stroke="#000" stroke-opacity="0.75" stroke-width="1.1"/>
<text transform="translate(277.60,508.85) scale(1.060,1)" text-anchor="middle" font-size="9.4">6.5</text>
<line x1="287.1" y1="534.10" x2="290.5" y2="534.10" stroke="#000" stroke-opacity="0.75" stroke-width="1.1"/>
<text transform="translate(277.60,537.35) scale(1.060,1)" text-anchor="middle" font-size="9.4">6.0</text>
<line x1="287.1" y1="562.60" x2="290.5" y2="562.60" stroke="#000" stroke-opacity="0.75" stroke-width="1.1"/>
<text transform="translate(277.60,565.85) scale(1.060,1)" text-anchor="middle" font-size="9.4">5.5</text>
<line x1="287.1" y1="591.10" x2="290.5" y2="591.10" stroke="#000" stroke-opacity="0.75" stroke-width="1.1"/>
<text transform="translate(277.60,594.35) scale(1.060,1)" text-anchor="middle" font-size="9.4">5.0</text>
<line x1="287.1" y1="619.60" x2="290.5" y2="619.60" stroke="#000" stroke-opacity="0.75" stroke-width="1.1"/>
<text transform="translate(277.60,622.85) scale(1.060,1)" text-anchor="middle" font-size="9.4">4.5</text>
<line x1="287.1" y1="648.10" x2="290.5" y2="648.10" stroke="#000" stroke-opacity="0.75" stroke-width="1.1"/>
<text transform="translate(277.60,651.35) scale(1.060,1)" text-anchor="middle" font-size="9.4">4.0</text>
<line x1="290.50" y1="648.0" x2="290.50" y2="651.4" stroke="#000" stroke-opacity="0.75" stroke-width="1.1"/>
<text transform="translate(290.50,660.80) scale(1.080,1)" text-anchor="middle" font-size="9.4">0</text>
<line x1="334.78" y1="648.0" x2="334.78" y2="651.4" stroke="#000" stroke-opacity="0.75" stroke-width="1.1"/>
<text transform="translate(334.78,660.80) scale(1.080,1)" text-anchor="middle" font-size="9.4">5</text>
<line x1="379.07" y1="648.0" x2="379.07" y2="651.4" stroke="#000" stroke-opacity="0.75" stroke-width="1.1"/>
<text transform="translate(379.07,660.80) scale(1.080,1)" text-anchor="middle" font-size="9.4">10</text>
<line x1="423.35" y1="648.0" x2="423.35" y2="651.4" stroke="#000" stroke-opacity="0.75" stroke-width="1.1"/>
<text transform="translate(423.35,660.80) scale(1.080,1)" text-anchor="middle" font-size="9.4">15</text>
<line x1="467.63" y1="648.0" x2="467.63" y2="651.4" stroke="#000" stroke-opacity="0.75" stroke-width="1.1"/>
<text transform="translate(467.63,660.80) scale(1.080,1)" text-anchor="middle" font-size="9.4">20</text>
<text transform="translate(392.05,673.40) scale(1.076,1)" text-anchor="middle" font-size="9.4">Hour of the day</text>
<text transform="translate(140.95,35.70) scale(1.041,1)" text-anchor="middle" font-size="11.0">Seasonal Cycle</text>
<text transform="translate(386.35,36.00) scale(1.082,1)" text-anchor="middle" font-size="11.0">Diurnal cycle</text>
<text transform="translate(249.05,13.70) scale(1.097,1)" text-anchor="middle" font-size="10.8" font-weight="bold">English_Channel</text>
<text transform="translate(140.95,262.70) scale(1.041,1)" text-anchor="middle" font-size="11.0">Seasonal Cycle</text>
<text transform="translate(386.35,263.00) scale(1.082,1)" text-anchor="middle" font-size="11.0">Diurnal cycle</text>
<text transform="translate(248.65,241.70) scale(1.162,1)" text-anchor="middle" font-size="10.8" font-weight="bold">Atlantic</text>
<text transform="translate(146.65,488.50) scale(1.041,1)" text-anchor="middle" font-size="11.0">Seasonal Cycle</text>
<text transform="translate(392.00,488.80) scale(1.082,1)" text-anchor="middle" font-size="11.0">Diurnal cycle</text>
<text transform="translate(254.70,467.40) scale(1.181,1)" text-anchor="middle" font-size="10.8" font-weight="bold">Mediterranean</text>
<line x1="115.2" y1="52.5" x2="132.2" y2="52.5" stroke="#000" stroke-width="1.45" stroke-dasharray="4.8 2.1"/>
<path d="M123.70,49.75L124.32,51.65L126.32,51.65L124.70,52.82L125.32,54.72L123.70,53.55L122.08,54.72L122.70,52.82L121.08,51.65L123.08,51.65Z" fill="#000" stroke="#000" stroke-width="0.6"/>
<text transform="translate(150.30,54.40) scale(0.914,1)" text-anchor="middle" font-size="8.0">SYNOP</text>
<line x1="115.2" y1="64.55" x2="132.2" y2="64.55" stroke="#ff0000" stroke-width="1.45"/>
<text transform="translate(148.10,66.60) scale(0.990,1)" text-anchor="middle" font-size="8.0">ERA5</text>
<line x1="115.2" y1="76.6" x2="132.2" y2="76.6" stroke="#0000ff" stroke-width="1.45"/>
<text transform="translate(152.40,78.60) scale(0.973,1)" text-anchor="middle" font-size="8.0">COSMO</text>
<line x1="115.2" y1="88.65" x2="132.2" y2="88.65" stroke="#008000" stroke-width="1.45"/>
<text transform="translate(150.70,90.20) scale(0.921,1)" text-anchor="middle" font-size="8.0">CERRA</text>
</svg></body></html>
